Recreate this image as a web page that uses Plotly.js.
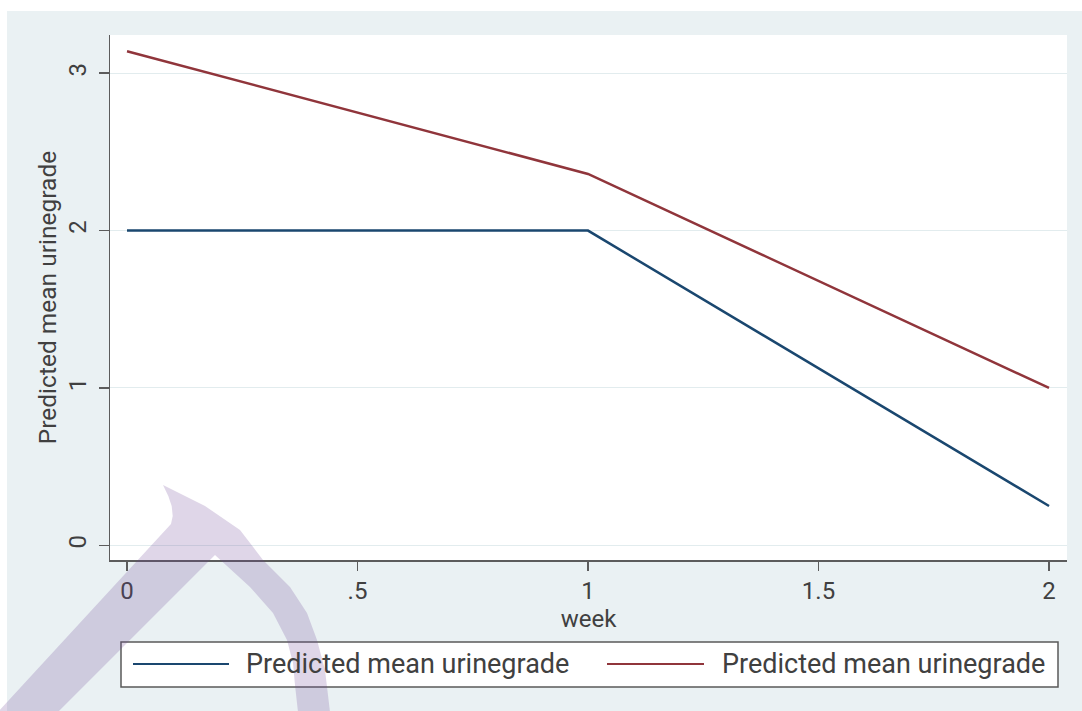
<!DOCTYPE html>
<html>
<head>
<meta charset="utf-8">
<script src="https://cdn.plot.ly/plotly-3.0.1.min.js"></script>
<style>html,body{margin:0;padding:0;background:#fff;}#chart{width:1082px;height:711px;}</style>
</head>
<body>
<div id="chart"></div>
<script>
// ---- data ----
const weeks = [0, 1, 2];
const seriesNames = ['Predicted mean urinegrade', 'Predicted mean urinegrade'];
const blueValues = [2, 2, 0.25];
const redValues = [3.14, 2.36, 1.0];
const seriesColors = ['#1a476f', '#90353b'];
const xTickVals = [0, 0.5, 1, 1.5, 2];
const xTickText = ['0', '.5', '1', '1.5', '2'];
const yTickVals = [0, 1, 2, 3];
const yTickText = ['0', '1', '2', '3'];
const xTitle = 'week';
const yTitle = 'Predicted mean urinegrade';

// ---- layout geometry (pixels) ----
const W = 1082, H = 711, L = 110, R = 1067, T = 35, B = 560;
const px = X => (X - L) / (R - L);
const py = Y => (B - Y) / (B - T);
const pathOf = pts => 'M' + pts.map(p => px(p[0]).toFixed(5) + ',' + py(p[1]).toFixed(5)).join(' L') + ' Z';

const FONT = 'Roboto, "Liberation Sans", Arial, sans-serif';
const TXT = '#404040';
const AX = '#5c5c5c';

const traces = [
  {x: weeks, y: blueValues, name: seriesNames[0], type: 'scatter', mode: 'lines',
   line: {color: seriesColors[0], width: 2.5}, showlegend: false},
  {x: weeks, y: redValues, name: seriesNames[1], type: 'scatter', mode: 'lines',
   line: {color: seriesColors[1], width: 2.5}, showlegend: false}
];

// decorative watermark outline (pixels)
const watermark = [
  [163,485],[205,506],[240,530],[263,560],[290,587],[307,613],[317,640],[325,670],[330,712],
  [298,712],[295,685],[293,663],[287,640],[273,613],[250,587],[215,555],
  [58,712],[-2,712],
  [171,524],[172.7,516],[171.7,506],[168.3,496]
];

const shapes = [
  // outer background
  {type: 'rect', xref: 'paper', yref: 'paper', x0: px(7), x1: px(W + 5), y0: py(11), y1: py(H + 5),
   fillcolor: '#eaf1f3', line: {width: 0}, layer: 'below'},
  // plot region
  {type: 'rect', xref: 'paper', yref: 'paper', x0: 0, x1: 1, y0: 0, y1: 1,
   fillcolor: '#ffffff', line: {width: 0}, layer: 'below'},
  // legend box
  {type: 'rect', xref: 'paper', yref: 'paper', x0: px(121), x1: px(1058), y0: py(687), y1: py(642),
   fillcolor: '#ffffff', line: {color: '#5a5a5a', width: 1.5}, layer: 'above'},
  {type: 'line', xref: 'paper', yref: 'paper', x0: px(133), x1: px(229), y0: py(664), y1: py(664),
   line: {color: seriesColors[0], width: 2}, layer: 'above'},
  {type: 'line', xref: 'paper', yref: 'paper', x0: px(607), x1: px(704), y0: py(664), y1: py(664),
   line: {color: seriesColors[1], width: 2}, layer: 'above'},
  // watermark (translucent, over legend box)
  {type: 'path', xref: 'paper', yref: 'paper', path: pathOf(watermark),
   fillcolor: 'rgba(110,70,150,0.22)', line: {width: 0}, layer: 'above'}
];

const annotations = [
  {xref: 'paper', yref: 'paper', x: px(244), y: py(664), xanchor: 'left', yanchor: 'middle',
   text: seriesNames[0], showarrow: false, font: {family: FONT, size: 27, color: TXT}},
  {xref: 'paper', yref: 'paper', x: px(720), y: py(664), xanchor: 'left', yanchor: 'middle',
   text: seriesNames[1], showarrow: false, font: {family: FONT, size: 27, color: TXT}}
];

const layout = {
  width: W, height: H,
  margin: {l: L, r: W - R, t: T, b: H - B, pad: 0},
  paper_bgcolor: '#ffffff',
  plot_bgcolor: 'rgba(0,0,0,0)',
  showlegend: false,
  font: {family: FONT, size: 24, color: TXT},
  xaxis: {
    range: [-0.0369, 2.039], automargin: false,
    tickvals: xTickVals, ticktext: xTickText, tickangle: 0,
    showline: true, linecolor: AX, linewidth: 1.5, mirror: false,
    ticks: 'outside', ticklen: 9, tickwidth: 1.5, tickcolor: AX,
    showgrid: false, zeroline: false,
    tickfont: {family: FONT, size: 24, color: TXT},
    title: {text: xTitle, font: {family: FONT, size: 24, color: TXT}, standoff: 0}
  },
  yaxis: {
    range: [-0.093, 3.243], automargin: false,
    tickvals: yTickVals, ticktext: yTickText, tickangle: -90,
    showline: true, linecolor: AX, linewidth: 1.5,
    ticks: 'outside', ticklen: 10, tickwidth: 1.5, tickcolor: AX,
    ticklabelstandoff: 3,
    showgrid: true, gridcolor: '#e2ecee', gridwidth: 1, zeroline: false,
    tickfont: {family: FONT, size: 24, color: TXT},
    title: {text: yTitle, font: {family: FONT, size: 24.5, color: TXT}, standoff: 0}
  },
  shapes: shapes,
  annotations: annotations
};

Plotly.newPlot('chart', traces, layout, {displayModeBar: false, staticPlot: true});
</script>
</body>
</html>
